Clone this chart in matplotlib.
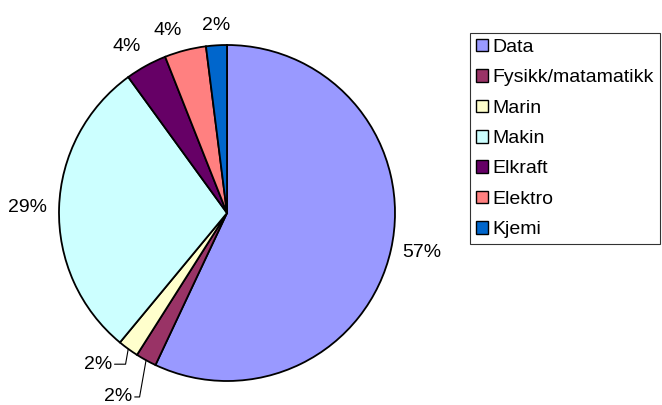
import numpy as np
import matplotlib
matplotlib.use("Agg")
from matplotlib import pyplot as plt
from matplotlib.patches import Patch

plt.rcParams["font.family"] = ["Liberation Sans", "DejaVu Sans"]

labels = ["Data", "Fysikk/matamatikk", "Marin", "Makin", "Elkraft", "Elektro", "Kjemi"]
values = [57, 2, 2, 29, 4, 4, 2]
colors = ["#9999FF", "#993366", "#FFFFCC", "#CCFFFF", "#660066", "#FF8080", "#0066CC"]

FS = 14

fig = plt.figure(figsize=(6.62, 4.05), dpi=100)
ax = fig.add_axes([59 / 662, 24 / 405, 336 / 662, 336 / 405])

wedges, _ = ax.pie(values, colors=colors, startangle=90, counterclock=False,
                   radius=1.0, wedgeprops=dict(edgecolor="black", linewidth=1.3))
ax.set_xlim(-1, 1)
ax.set_ylim(-1, 1)
ax.set_aspect("equal")
ax.axis("off")

# labels with leader lines for the two thin slices at the bottom
leader = {"Fysikk/matamatikk": (-0.65, -1.095), "Marin": (-0.77, -0.90)}

for w, lab, v in zip(wedges, labels, values):
    mid = np.deg2rad((w.theta1 + w.theta2) / 2)
    c, s = np.cos(mid), np.sin(mid)
    txt = f"{v}%"
    if lab in leader:
        ax.annotate(txt, xy=(c, s), xytext=leader[lab], fontsize=FS,
                    ha="center", va="center", annotation_clip=False,
                    arrowprops=dict(arrowstyle="-", color="black", lw=0.8,
                                    shrinkA=0, shrinkB=0, relpos=(1, 0.5),
                                    connectionstyle="angle,angleA=0,angleB=80,rad=0"))
    else:
        r = 1.07
        ha = "left" if c > 0.2 else ("right" if c < -0.2 else "center")
        va = "bottom" if s > 0.4 else ("top" if s < -0.4 else "center")
        ax.text(r * c, r * s, txt, fontsize=FS, ha=ha, va=va, clip_on=False)

handles = [Patch(facecolor=c, edgecolor="black", linewidth=1.0) for c in colors]
leg = fig.legend(handles, labels, loc="upper left", bbox_to_anchor=(470 / 662, 372 / 405),
                 borderaxespad=0, fontsize=FS, frameon=True, fancybox=False,
                 handlelength=0.62, handleheight=0.62, handletextpad=0.25,
                 labelspacing=0.68, borderpad=0.3)
leg.get_frame().set_edgecolor("black")
leg.get_frame().set_linewidth(0.8)

fig.savefig("out.png", dpi=100)
